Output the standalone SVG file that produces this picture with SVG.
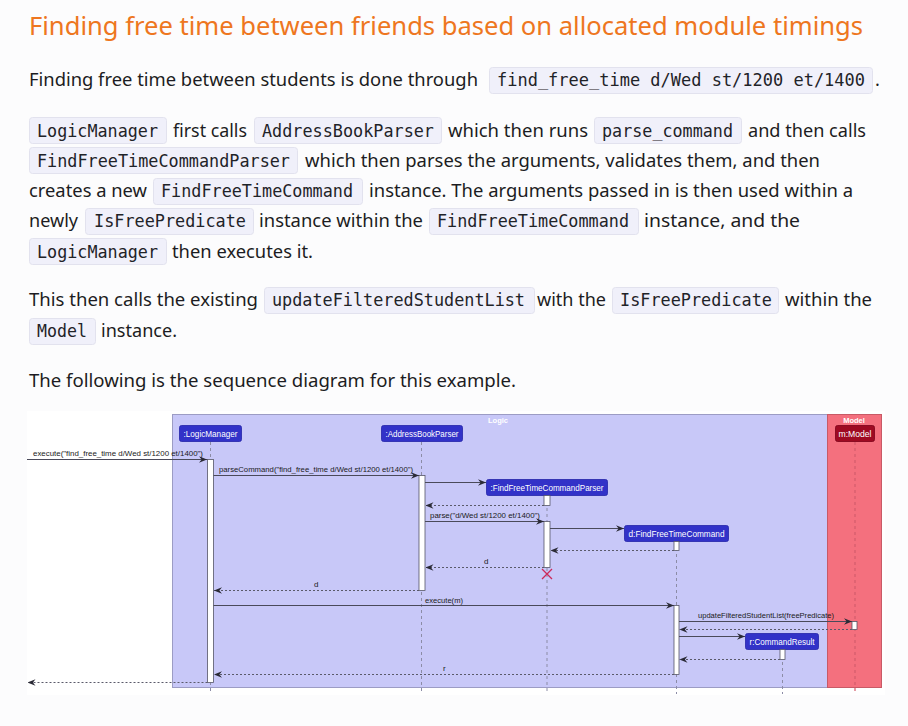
<svg xmlns="http://www.w3.org/2000/svg" width="908" height="726" viewBox="0 0 908 726">
  <style>
    .title { font-family: "Noto Sans", "Open Sans", sans-serif; font-size: 26px; fill: #ee7620; }
    .t { font-family: "Noto Sans", "Open Sans", sans-serif; font-size: 18px; fill: #1c1c22; }
    .c { font-family: "DejaVu Sans Mono", "Liberation Mono", monospace; font-size: 16.8px; fill: #1f2328; }
    .cb { fill: #f0f0fa; stroke: #e2e2ee; stroke-width: 1; }
    .frame-logic { fill: #c8c8f8; stroke: #9c9cc4; stroke-width: 1; }
    .frame-model { fill: #f4707e; stroke: #c85a66; stroke-width: 1; }
    .frame-label { font-family: "Liberation Sans", "DejaVu Sans", sans-serif; font-size: 7.5px; font-weight: bold; fill: #ffffff; text-anchor: middle; }
    .pt { fill: #3232c8; stroke: #2424a8; stroke-width: 0.8; }
    .pt-model { fill: #9e0a22; stroke: #7c0018; stroke-width: 0.8; }
    .ptt { font-family: "Liberation Sans", "DejaVu Sans", sans-serif; font-size: 9px; fill: #ffffff; text-anchor: middle; }
    .ll { stroke: #8c8ca6; stroke-width: 1; stroke-dasharray: 3 3; fill: none; }
    .ll-model { stroke: #d35c6c; stroke-width: 1.2; stroke-dasharray: 3 3; fill: none; }
    .act { fill: #ffffff; stroke: #555566; stroke-width: 0.8; }
    .msg { stroke: #4a4a5a; stroke-width: 1; fill: none; marker-end: url(#ah); }
    .ret { stroke: #5a5a6a; stroke-width: 1; stroke-dasharray: 2 2; fill: none; marker-end: url(#ah); }
    .lbl { font-family: "Liberation Sans", "DejaVu Sans", sans-serif; font-size: 8px; fill: #1a1a1a; }
    .destroy { stroke: #cc2a5a; stroke-width: 1.3; }
  </style>
  <defs>
    <marker id="ah" viewBox="0 0 8 8" refX="8" refY="4" markerWidth="8" markerHeight="8" markerUnits="userSpaceOnUse" orient="auto">
      <path d="M0,0.8 L8,4 L0,7.2 L2.6,4 Z" fill="#2a2a36"/>
    </marker>
  </defs>

  <!-- page -->
  <rect x="0" y="0" width="908" height="726" fill="#fcfcfd"/>

  <!-- heading -->
  <text class="title" x="29" y="35" textLength="834" lengthAdjust="spacingAndGlyphs">Finding free time between friends based on allocated module timings</text>

  <!-- paragraph: command -->
  <g id="para-command">
    <text class="t" x="29" y="86" textLength="449" lengthAdjust="spacingAndGlyphs">Finding free time between students is done through</text>
    <rect class="cb" x="489.5" y="67.5" width="383" height="26" rx="3"/>
    <text class="c" x="497" y="86" textLength="368" lengthAdjust="spacingAndGlyphs">find_free_time d/Wed st/1200 et/1400</text>
    <text class="t" x="875" y="86">.</text>
  </g>

  <!-- paragraph: flow -->
  <g id="para-flow">
    <rect class="cb" x="29.5" y="117.5" width="137" height="26" rx="3"/>
    <text class="c" x="37" y="137" textLength="121" lengthAdjust="spacingAndGlyphs">LogicManager</text>
    <text class="t" x="173" y="137" textLength="74" lengthAdjust="spacingAndGlyphs">first calls</text>
    <rect class="cb" x="254.5" y="117.5" width="187" height="26" rx="3"/>
    <text class="c" x="262" y="137" textLength="172" lengthAdjust="spacingAndGlyphs">AddressBookParser</text>
    <text class="t" x="448" y="137" textLength="140" lengthAdjust="spacingAndGlyphs">which then runs</text>
    <rect class="cb" x="594.5" y="117.5" width="147" height="26" rx="3"/>
    <text class="c" x="602" y="137" textLength="131" lengthAdjust="spacingAndGlyphs">parse_command</text>
    <text class="t" x="748" y="137" textLength="118" lengthAdjust="spacingAndGlyphs">and then calls</text>

    <rect class="cb" x="29.5" y="147.5" width="268" height="26" rx="3"/>
    <text class="c" x="37" y="167" textLength="253" lengthAdjust="spacingAndGlyphs">FindFreeTimeCommandParser</text>
    <text class="t" x="305" y="167" textLength="515" lengthAdjust="spacingAndGlyphs">which then parses the arguments, validates them, and then</text>

    <text class="t" x="29" y="197" textLength="118" lengthAdjust="spacingAndGlyphs">creates a new</text>
    <rect class="cb" x="153.5" y="178.5" width="209" height="26" rx="3"/>
    <text class="c" x="161" y="197" textLength="192" lengthAdjust="spacingAndGlyphs">FindFreeTimeCommand</text>
    <text class="t" x="369" y="197" textLength="484" lengthAdjust="spacingAndGlyphs">instance. The arguments passed in is then used within a</text>

    <text class="t" x="29" y="227" textLength="49" lengthAdjust="spacingAndGlyphs">newly</text>
    <rect class="cb" x="85.5" y="208.5" width="168" height="26" rx="3"/>
    <text class="c" x="94" y="227" textLength="152" lengthAdjust="spacingAndGlyphs">IsFreePredicate</text>
    <text class="t" x="259" y="227" textLength="164" lengthAdjust="spacingAndGlyphs">instance within the</text>
    <rect class="cb" x="429.5" y="208.5" width="209" height="26" rx="3"/>
    <text class="c" x="437" y="227" textLength="192" lengthAdjust="spacingAndGlyphs">FindFreeTimeCommand</text>
    <text class="t" x="644" y="227" textLength="156" lengthAdjust="spacingAndGlyphs">instance, and the</text>

    <rect class="cb" x="29.5" y="238.5" width="137" height="26" rx="3"/>
    <text class="c" x="37" y="258" textLength="121" lengthAdjust="spacingAndGlyphs">LogicManager</text>
    <text class="t" x="172" y="258" textLength="141" lengthAdjust="spacingAndGlyphs">then executes it.</text>
  </g>

  <!-- paragraph: model update -->
  <g id="para-model">
    <text class="t" x="29" y="306" textLength="229" lengthAdjust="spacingAndGlyphs">This then calls the existing</text>
    <rect class="cb" x="264.5" y="287.5" width="270" height="26" rx="3"/>
    <text class="c" x="272" y="306" textLength="253" lengthAdjust="spacingAndGlyphs">updateFilteredStudentList</text>
    <text class="t" x="537" y="306" textLength="69" lengthAdjust="spacingAndGlyphs">with the</text>
    <rect class="cb" x="612.5" y="287.5" width="166" height="26" rx="3"/>
    <text class="c" x="620" y="306" textLength="152" lengthAdjust="spacingAndGlyphs">IsFreePredicate</text>
    <text class="t" x="785" y="306" textLength="87" lengthAdjust="spacingAndGlyphs">within the</text>

    <rect class="cb" x="29.5" y="318.5" width="66" height="26" rx="3"/>
    <text class="c" x="37" y="337" textLength="50" lengthAdjust="spacingAndGlyphs">Model</text>
    <text class="t" x="101" y="337" textLength="76" lengthAdjust="spacingAndGlyphs">instance.</text>
  </g>

  <text class="t" x="29" y="387" textLength="487" lengthAdjust="spacingAndGlyphs">The following is the sequence diagram for this example.</text>

  <!-- sequence diagram -->
  <rect x="27" y="411" width="858" height="284" fill="#ffffff"/>

  <g id="frame-logic">
    <rect class="frame-logic" x="172.5" y="414.5" width="655" height="273"/>
    <text class="frame-label" x="498" y="423">Logic</text>
  </g>
  <g id="frame-model">
    <rect class="frame-model" x="827.5" y="414.5" width="54" height="273"/>
    <text class="frame-label" x="854" y="423">Model</text>
  </g>

  <!-- lifelines -->
  <g id="lifelines">
    <line class="ll" x1="210.5" y1="442" x2="210.5" y2="694"/>
    <line class="ll" x1="421.5" y1="442" x2="421.5" y2="694"/>
    <line class="ll" x1="547" y1="496" x2="547" y2="694"/>
    <line class="ll" x1="676.5" y1="542" x2="676.5" y2="694"/>
    <line class="ll" x1="782.5" y1="650" x2="782.5" y2="694"/>
    <line class="ll-model" x1="855" y1="442" x2="855" y2="694"/>
  </g>

  <!-- participants -->
  <g id="logic-manager">
    <rect class="pt" x="179.5" y="425.5" width="62" height="16" rx="2"/>
    <text class="ptt" x="210.5" y="437" textLength="54" lengthAdjust="spacingAndGlyphs">:LogicManager</text>
  </g>
  <g id="address-book-parser">
    <rect class="pt" x="381.5" y="425.5" width="81" height="16" rx="2"/>
    <text class="ptt" x="422" y="437" textLength="73" lengthAdjust="spacingAndGlyphs">:AddressBookParser</text>
  </g>
  <g id="find-free-time-command-parser">
    <rect class="pt" x="486.5" y="479.5" width="121" height="16" rx="2"/>
    <text class="ptt" x="547" y="491" textLength="113" lengthAdjust="spacingAndGlyphs">:FindFreeTimeCommandParser</text>
  </g>
  <g id="find-free-time-command">
    <rect class="pt" x="624.5" y="525.5" width="104" height="16" rx="2"/>
    <text class="ptt" x="676.5" y="537" textLength="96" lengthAdjust="spacingAndGlyphs">d:FindFreeTimeCommand</text>
  </g>
  <g id="model">
    <rect class="pt-model" x="835.5" y="425.5" width="39" height="16" rx="2"/>
    <text class="ptt" x="855" y="437" textLength="33" lengthAdjust="spacingAndGlyphs">m:Model</text>
  </g>
  <g id="command-result">
    <rect class="pt" x="745.5" y="633.5" width="73" height="16" rx="2"/>
    <text class="ptt" x="782" y="645" textLength="65" lengthAdjust="spacingAndGlyphs">r:CommandResult</text>
  </g>

  <!-- activations -->
  <g id="activations">
    <rect class="act" x="207.5" y="459.5" width="6" height="223"/>
    <rect class="act" x="419" y="475.5" width="6" height="115"/>
    <rect class="act" x="544" y="495.5" width="6" height="10"/>
    <rect class="act" x="544" y="521.5" width="6" height="46"/>
    <rect class="act" x="674" y="541.5" width="5" height="9"/>
    <rect class="act" x="674" y="605.5" width="5" height="69"/>
    <rect class="act" x="852" y="621.5" width="5" height="8"/>
    <rect class="act" x="780" y="649.5" width="5" height="10"/>
  </g>

  <!-- messages -->
  <g id="connectors">
    <line class="msg" x1="27" y1="459.5" x2="207" y2="459.5"/>
    <text class="lbl" x="33" y="456" textLength="170" lengthAdjust="spacingAndGlyphs">execute("find_free_time d/Wed st/1200 et/1400")</text>

    <line class="msg" x1="213.5" y1="475.5" x2="419" y2="475.5"/>
    <text class="lbl" x="219" y="472" textLength="194" lengthAdjust="spacingAndGlyphs">parseCommand("find_free_time d/Wed st/1200 et/1400")</text>

    <line class="msg" x1="425" y1="482.5" x2="486" y2="482.5"/>
    <line class="ret" x1="544" y1="505.5" x2="425.5" y2="505.5"/>

    <line class="msg" x1="425" y1="521.5" x2="544" y2="521.5"/>
    <text class="lbl" x="430" y="518" textLength="110" lengthAdjust="spacingAndGlyphs">parse("d/Wed st/1200 et/1400")</text>

    <line class="msg" x1="550" y1="528.5" x2="624" y2="528.5"/>
    <line class="ret" x1="674" y1="550.5" x2="550.5" y2="550.5"/>

    <line class="ret" x1="544" y1="567.5" x2="425.5" y2="567.5"/>
    <text class="lbl" x="484" y="564">d</text>

    <line class="ret" x1="419" y1="590.5" x2="214" y2="590.5"/>
    <text class="lbl" x="314" y="587">d</text>

    <line class="msg" x1="213.5" y1="605.5" x2="674" y2="605.5"/>
    <text class="lbl" x="425" y="603" textLength="38" lengthAdjust="spacingAndGlyphs">execute(m)</text>

    <line class="msg" x1="679" y1="621.5" x2="852" y2="621.5"/>
    <text class="lbl" x="698" y="618" textLength="136" lengthAdjust="spacingAndGlyphs">updateFilteredStudentList(freePredicate)</text>

    <line class="ret" x1="852" y1="629.5" x2="679.5" y2="629.5"/>

    <line class="msg" x1="679" y1="636.5" x2="745" y2="636.5"/>
    <line class="ret" x1="780" y1="659.5" x2="679.5" y2="659.5"/>

    <line class="ret" x1="674" y1="674.5" x2="214" y2="674.5"/>
    <text class="lbl" x="443" y="671">r</text>

    <line class="ret" x1="207.5" y1="682.5" x2="27.5" y2="682.5"/>

    <!-- parser destroyed -->
    <path class="destroy" d="M542,569 L552,579 M552,569 L542,579"/>
  </g>
</svg>
